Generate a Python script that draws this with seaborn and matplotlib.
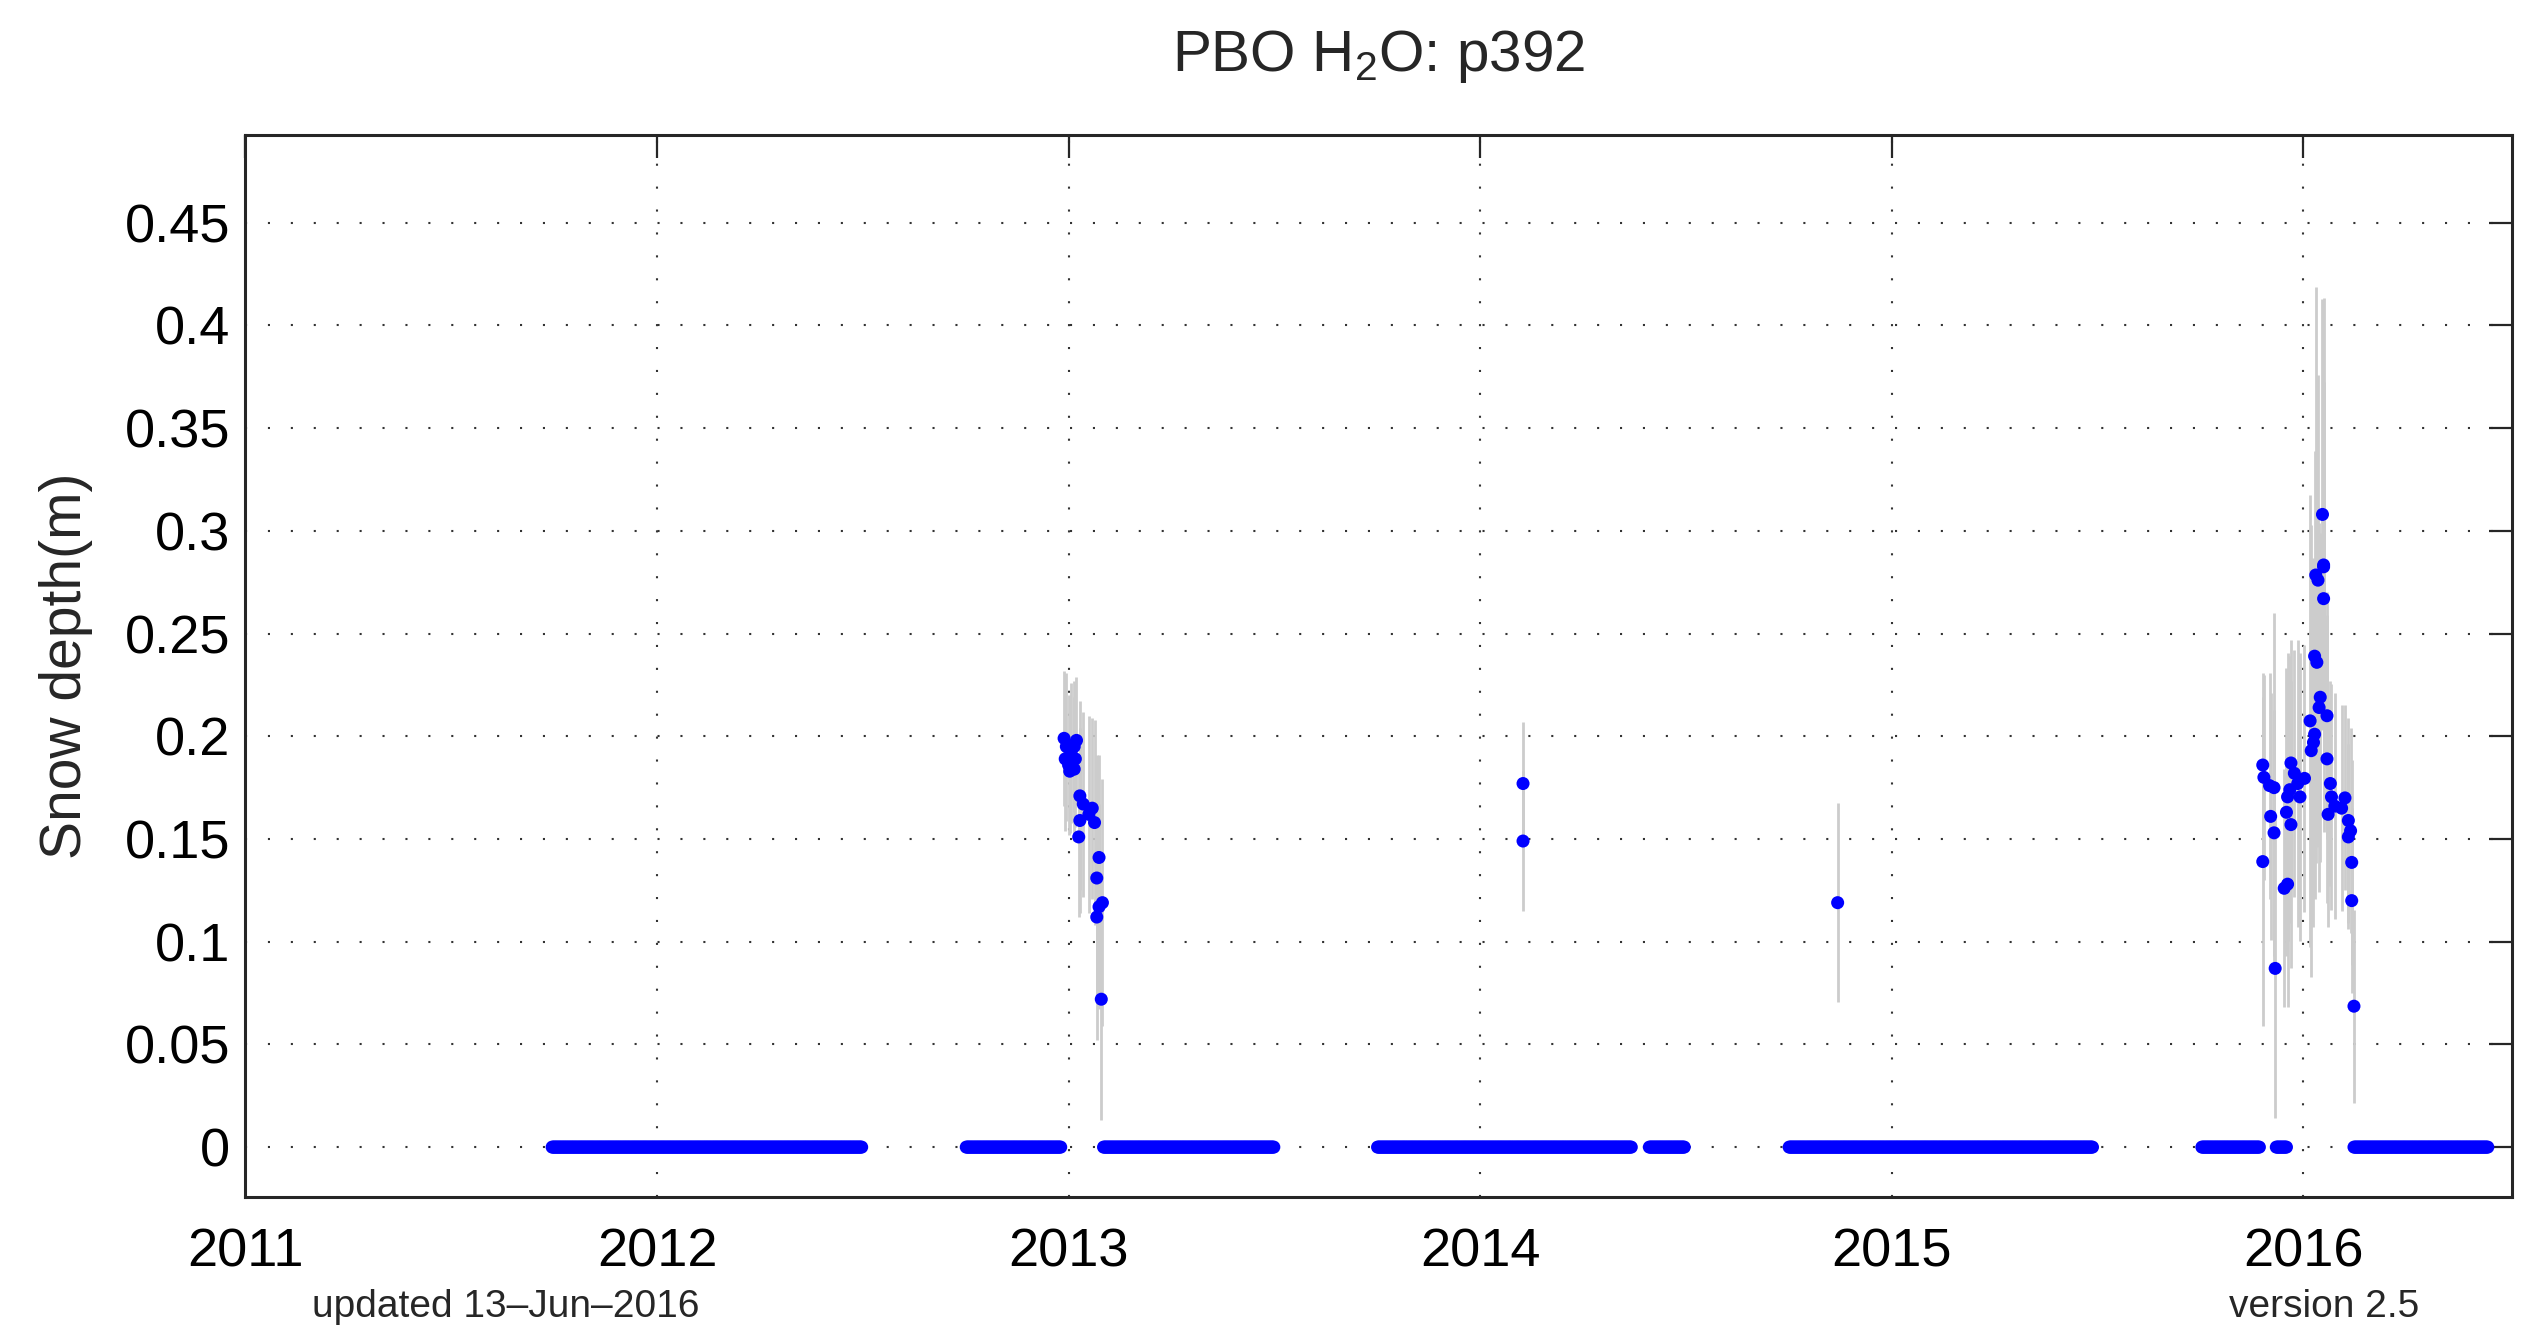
import numpy as np
import pandas as pd
import matplotlib
matplotlib.use("Agg")
import matplotlib.pyplot as plt
import seaborn as sns

# ---------------- data ----------------
# daily retrievals with zero snow depth: continuous runs (first day, last day)
zero_run_start = ["2011-09-30", "2012-10-02", "2013-02-01", "2013-10-02", "2014-05-31",
                  "2014-10-02", "2015-10-03", "2015-12-08", "2016-02-15"]
zero_run_end = ["2012-07-01", "2012-12-25", "2013-07-02", "2014-05-15", "2014-07-01",
                "2015-06-28", "2015-11-23", "2015-12-17", "2016-06-13"]

# non-zero snow depth retrievals
snow_dates = [
    # winter 2012/13
    "2012-12-28", "2013-01-08", "2012-12-30", "2013-01-06", "2013-01-03", "2012-12-29",
    "2013-01-07", "2013-01-01", "2013-01-06", "2013-01-02", "2013-01-11", "2013-01-14",
    "2013-01-22", "2013-01-19", "2013-01-11", "2013-01-24", "2013-01-10", "2013-01-28",
    "2013-01-26", "2013-01-31", "2013-01-28", "2013-01-26", "2013-01-30",
    # winter 2013/14
    "2014-02-08", "2014-02-08",
    # winter 2014/15
    "2014-11-14",
    # winter 2015/16
    "2015-11-26", "2015-11-26", "2015-11-27", "2015-12-02", "2015-12-03", "2015-12-06",
    "2015-12-06", "2015-12-07", "2015-12-15", "2015-12-17", "2015-12-18", "2015-12-18",
    "2015-12-20", "2015-12-21", "2015-12-21", "2015-12-24", "2015-12-27", "2015-12-29",
    "2016-01-02", "2016-01-07", "2016-01-08", "2016-01-10", "2016-01-11", "2016-01-11",
    "2016-01-12", "2016-01-13", "2016-01-14", "2016-01-15", "2016-01-16", "2016-01-18",
    "2016-01-19", "2016-01-19", "2016-01-19", "2016-01-22", "2016-01-22", "2016-01-23",
    "2016-01-25", "2016-01-26", "2016-01-29", "2016-02-04", "2016-02-07", "2016-02-10",
    "2016-02-10", "2016-02-12", "2016-02-13", "2016-02-13", "2016-02-15",
]
snow_depth = [
    0.199, 0.198, 0.195, 0.195, 0.192, 0.189,
    0.189, 0.186, 0.184, 0.183, 0.171, 0.167,
    0.165, 0.162, 0.159, 0.158, 0.151, 0.141,
    0.131, 0.119, 0.117, 0.112, 0.072,
    0.177, 0.149,
    0.119,
    0.186, 0.139, 0.180, 0.176, 0.161, 0.175,
    0.153, 0.087, 0.126, 0.163, 0.128, 0.1705,
    0.174, 0.187, 0.157, 0.182, 0.177, 0.1705,
    0.1795, 0.2075, 0.193, 0.197, 0.239, 0.201,
    0.2785, 0.236, 0.276, 0.214, 0.219, 0.308,
    0.2834, 0.2825, 0.267, 0.189, 0.210, 0.162,
    0.177, 0.1705, 0.166, 0.165, 0.170, 0.159,
    0.151, 0.154, 0.1386, 0.120, 0.0686,
]
snow_err = [
    0.033, 0.031, 0.036, 0.032, 0.034, 0.035,
    0.033, 0.034, 0.035, 0.030, 0.046, 0.045,
    0.044, 0.048, 0.045, 0.050, 0.039, 0.050,
    0.060, 0.060, 0.050, 0.060, 0.059,
    0.030, 0.034,
    0.0485,
    0.045, 0.080, 0.050, 0.055, 0.060, 0.085,
    0.060, 0.073, 0.058, 0.070, 0.060, 0.070,
    0.065, 0.060, 0.070, 0.060, 0.070, 0.070,
    0.065, 0.110, 0.110, 0.090, 0.100, 0.080,
    0.140, 0.090, 0.100, 0.090, 0.080, 0.105,
    0.130, 0.090, 0.080, 0.070, 0.060, 0.055,
    0.050, 0.055, 0.055, 0.050, 0.045, 0.050,
    0.045, 0.050, 0.050, 0.045, 0.047,
]

year_ticks = [2011, 2012, 2013, 2014, 2015, 2016]
year_labels = ["2011", "2012", "2013", "2014", "2015", "2016"]
depth_ticks = [0, 0.05, 0.1, 0.15, 0.2, 0.25, 0.3, 0.35, 0.4, 0.45]
depth_labels = ["0", "0.05", "0.1", "0.15", "0.2", "0.25", "0.3", "0.35", "0.4", "0.45"]

title_text = "PBO $\\mathregular{H_2O}$: p392"
ylabel_text = "Snow depth(m)"
updated_text = "updated 13\u2013Jun\u20132016"
version_text = "version 2.5"


def decimal_year(dates):
    d = pd.to_datetime(pd.Series(dates))
    ndays = np.where(d.dt.is_leap_year, 366.0, 365.0)
    return (d.dt.year + (d.dt.dayofyear - 1) / ndays).to_numpy()


zero_days = pd.concat([pd.Series(pd.date_range(s, e, freq="D"))
                       for s, e in zip(zero_run_start, zero_run_end)], ignore_index=True)
df_zero = pd.DataFrame({"t": decimal_year(zero_days), "depth": 0.0})
df_snow = pd.DataFrame({"t": decimal_year(snow_dates), "depth": snow_depth, "err": snow_err})
df_all = pd.concat([df_zero, df_snow[["t", "depth"]]], ignore_index=True)

# ---------------- plot ----------------
sns.set_style("white")
plt.rcParams["font.family"] = ["Liberation Sans", "DejaVu Sans"]
plt.rcParams["mathtext.fontset"] = "custom"
plt.rcParams["mathtext.rm"] = "Liberation Sans"

fig = plt.figure(figsize=(25.3, 13.29), dpi=100)
ax = fig.add_axes([0.0970, 0.0993, 0.9959 - 0.0970 - 0.0030, 0.8984 - 0.0993])

ax.vlines(df_snow["t"], df_snow["depth"] - df_snow["err"], df_snow["depth"] + df_snow["err"],
          color="0.80", linewidth=2.0, zorder=2)
sns.scatterplot(data=df_all, x="t", y="depth", color=(0, 0, 1), s=88, linewidth=0,
                edgecolor="none", ax=ax, zorder=3, legend=False)

ax.set_xlim(2011.0, 2016.507)
ax.set_ylim(-0.0243, 0.4927)
ax.set_xticks(year_ticks)
ax.set_xticklabels(year_labels)
ax.set_yticks(depth_ticks)
ax.set_yticklabels(depth_labels)

ax.grid(True, linestyle=(0, (1, 10)), color="0.2", linewidth=1.5)
ax.set_axisbelow(True)
ax.tick_params(axis="both", direction="in", length=16.5, width=1.6, color="0.15",
               top=True, right=True, labelsize=39, labelcolor="black")
ax.tick_params(axis="x", pad=22)
ax.tick_params(axis="y", pad=11)
for sp in ax.spines.values():
    sp.set_linewidth(2.2)
    sp.set_color("0.15")

ax.set_xlabel("")
ax.set_ylabel(ylabel_text, fontsize=41)
ax.yaxis.set_label_coords(-0.0673, 0.5)
ax.set_title(title_text, fontsize=42, pad=46)

fig.text(506 / 2530, 1 - 1307 / 1329, updated_text, ha="center", va="center", fontsize=28)
fig.text(2324 / 2530, 1 - 1307 / 1329, version_text, ha="center", va="center", fontsize=28)

fig.savefig("out.png", dpi=100)
